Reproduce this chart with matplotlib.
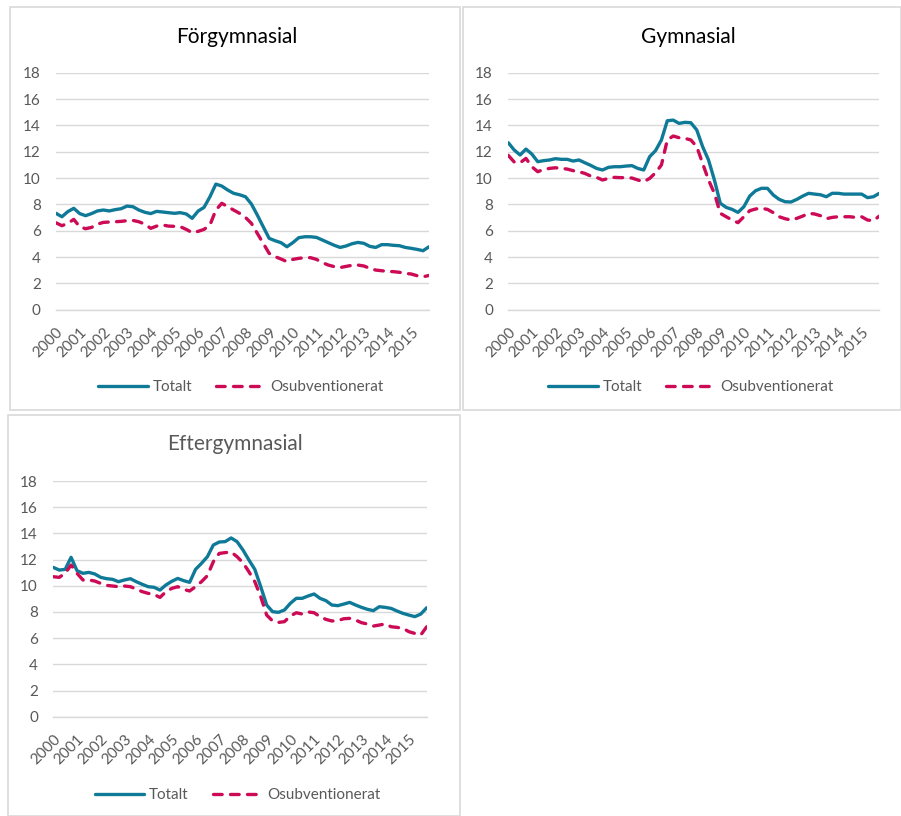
import matplotlib
matplotlib.use("Agg")
import matplotlib.pyplot as plt
from matplotlib.patches import Rectangle
from matplotlib.lines import Line2D

plt.rcParams['font.family'] = ['Lato', 'DejaVu Sans']

years = [str(y) for y in range(2000, 2016)]
quarters = list(range(64))

titles = ["Förgymnasial", "Gymnasial", "Eftergymnasial"]
series_names = ["Totalt", "Osubventionerat"]

forgym_totalt = [7.32, 7.06, 7.45, 7.70, 7.30, 7.14, 7.30, 7.50, 7.57, 7.50, 7.60, 7.67,
                 7.87, 7.82, 7.57, 7.40, 7.30, 7.47, 7.42, 7.37, 7.32, 7.37, 7.27, 6.94,
                 7.49, 7.77, 8.58, 9.54, 9.39, 9.09, 8.84, 8.73, 8.58, 8.03, 7.19, 6.30,
                 5.42, 5.24, 5.09, 4.78, 5.09, 5.47, 5.54, 5.54, 5.49, 5.29, 5.09, 4.89,
                 4.73, 4.84, 5.01, 5.11, 5.04, 4.81, 4.73, 4.94, 4.94, 4.89, 4.86, 4.73,
                 4.66, 4.58, 4.48, 4.78]
forgym_osub = [6.60, 6.38, 6.56, 6.86, 6.30, 6.15, 6.25, 6.50, 6.63, 6.66, 6.68, 6.71,
               6.76, 6.78, 6.68, 6.50, 6.18, 6.35, 6.43, 6.35, 6.33, 6.30, 6.10, 5.85,
               5.95, 6.10, 6.43, 7.57, 8.08, 7.82, 7.57, 7.32, 7.01, 6.56, 5.80, 5.04,
               4.28, 4.03, 3.85, 3.65, 3.82, 3.90, 3.95, 3.95, 3.82, 3.57, 3.39, 3.27,
               3.20, 3.29, 3.37, 3.39, 3.32, 3.14, 3.01, 2.96, 2.91, 2.89, 2.84, 2.76,
               2.71, 2.58, 2.50, 2.60]

gym_totalt = [12.68, 12.13, 11.75, 12.20, 11.82, 11.24, 11.32, 11.37, 11.47, 11.42, 11.42, 11.29,
              11.37, 11.16, 10.96, 10.73, 10.61, 10.81, 10.86, 10.86, 10.91, 10.94, 10.73, 10.61,
              11.62, 12.08, 12.89, 14.35, 14.40, 14.15, 14.23, 14.20, 13.65, 12.38, 11.37, 9.85,
              8.08, 7.77, 7.62, 7.39, 7.82, 8.63, 9.04, 9.22, 9.22, 8.71, 8.38, 8.20,
              8.18, 8.38, 8.63, 8.84, 8.78, 8.73, 8.58, 8.84, 8.84, 8.78, 8.78, 8.78,
              8.78, 8.51, 8.58, 8.84]
gym_osub = [11.72, 11.22, 11.16, 11.49, 10.86, 10.48, 10.66, 10.73, 10.78, 10.73, 10.68, 10.56,
            10.48, 10.35, 10.15, 10.05, 9.85, 9.97, 10.05, 10.03, 10.03, 10.00, 9.85, 9.72,
            9.97, 10.40, 10.99, 12.89, 13.19, 13.06, 13.01, 12.89, 12.38, 11.11, 9.85, 8.84,
            7.32, 7.06, 6.81, 6.61, 7.06, 7.52, 7.65, 7.70, 7.62, 7.37, 7.06, 6.91,
            6.81, 6.94, 7.11, 7.32, 7.27, 7.14, 6.91, 7.01, 7.06, 7.06, 7.06, 7.01,
            7.06, 6.81, 6.76, 7.11]

eftergym_totalt = [11.40, 11.20, 11.25, 12.17, 11.15, 10.95, 11.02, 10.90, 10.64, 10.54, 10.49, 10.31,
                   10.44, 10.54, 10.31, 10.11, 9.93, 9.88, 9.67, 10.06, 10.34, 10.56, 10.39, 10.26,
                   11.25, 11.71, 12.22, 13.11, 13.34, 13.37, 13.65, 13.37, 12.73, 11.97, 11.25, 9.93,
                   8.53, 8.02, 7.97, 8.15, 8.66, 9.04, 9.04, 9.22, 9.37, 9.04, 8.86, 8.53,
                   8.48, 8.60, 8.73, 8.53, 8.35, 8.20, 8.10, 8.40, 8.35, 8.27, 8.07, 7.89,
                   7.76, 7.64, 7.84, 8.32]
eftergym_osub = [10.69, 10.64, 10.95, 11.58, 10.95, 10.44, 10.44, 10.36, 10.18, 10.03, 9.98, 9.93,
                 9.98, 9.93, 9.75, 9.55, 9.42, 9.34, 9.11, 9.55, 9.80, 9.93, 9.72, 9.60,
                 9.93, 10.31, 10.77, 11.84, 12.47, 12.53, 12.58, 12.22, 11.76, 11.07, 10.31, 9.16,
                 7.76, 7.31, 7.20, 7.26, 7.69, 7.94, 7.84, 8.00, 7.94, 7.64, 7.43, 7.31,
                 7.33, 7.48, 7.51, 7.38, 7.18, 7.08, 6.92, 7.00, 7.08, 6.87, 6.82, 6.75,
                 6.49, 6.36, 6.24, 6.87]

panel_data = [(forgym_totalt, forgym_osub), (gym_totalt, gym_osub), (eftergym_totalt, eftergym_osub)]

W, H = 901, 816
fig = plt.figure(figsize=(W / 100, H / 100), dpi=100)
fig.patch.set_facecolor('white')

TEAL = '#0f7a98'
CRIMSON = '#cc0a55'
GRID = '#d9d9d9'
TXT = '#595959'
DASH = (2.6, 2.5)

def fx(px):
    return px / W

def fy(py):
    return 1 - py / H

# panel frames (pixel boxes: x0, y0, x1, y1)
frames = [(10, 7, 460, 410), (463, 7, 901, 410), (8, 415, 460, 816)]
for x0, y0, x1, y1 in frames:
    fig.add_artist(Rectangle((fx(x0), fy(y1)), fx(x1 - x0), (y1 - y0) / H,
                             transform=fig.transFigure, fill=False,
                             edgecolor=GRID, linewidth=1.2))

# axes pixel boxes: left, right, top(18), bottom(0)
axes_boxes = [(56, 429, 72.7, 309.7), (508.3, 879.3, 72.7, 309.7), (53.3, 426.7, 481.0, 716.7)]
title_pos = [(236.7, 37), (688, 37), (235, 444)]
title_colors = ['black', 'black', TXT]
legend_pos = [(241, 387), (691, 387), (237.5, 795)]

for i, ((l, r, t, b), (tot, osub)) in enumerate(zip(axes_boxes, panel_data)):
    ax = fig.add_axes([fx(l), fy(b), (r - l) / W, (b - t) / H])
    ax.set_facecolor('none')
    ax.plot(quarters, tot, color=TEAL, lw=2.4, solid_joinstyle='round',
            solid_capstyle='round', label=series_names[0], zorder=3)
    ax.plot(quarters, osub, color=CRIMSON, lw=2.4, dashes=DASH,
            dash_joinstyle='round', dash_capstyle='round',
            label=series_names[1], zorder=3)
    ax.set_xlim(0, 63)
    ax.set_ylim(0, 18)
    ax.set_yticks(range(0, 19, 2))
    ax.set_xticks(range(0, 64, 4))
    ax.set_xticklabels(years, rotation=45, ha='right', va='top', rotation_mode='anchor')
    ax.tick_params(axis='y', length=0, pad=11, labelsize=11, labelcolor=TXT)
    ax.tick_params(axis='x', length=0, pad=11, labelsize=11, labelcolor=TXT)
    ax.grid(axis='y', color=GRID, lw=1.0)
    ax.set_axisbelow(True)
    for s in ['top', 'right', 'left']:
        ax.spines[s].set_visible(False)
    ax.spines['bottom'].set_color(GRID)
    ax.spines['bottom'].set_linewidth(1.0)

    tx, ty = title_pos[i]
    fig.text(fx(tx), fy(ty), titles[i], ha='center', va='center', fontsize=15,
             color=title_colors[i])

    handles = [Line2D([], [], color=TEAL, lw=2.4, solid_capstyle='round'),
               Line2D([], [], color=CRIMSON, lw=2.4, dashes=DASH, dash_capstyle='round')]
    lx, ly = legend_pos[i]
    fig.legend(handles, series_names, loc='center', bbox_to_anchor=(fx(lx), fy(ly)),
               ncol=2, frameon=False, fontsize=11, labelcolor=TXT,
               handlelength=3.25, handletextpad=0.3, columnspacing=1.6,
               borderpad=0, borderaxespad=0)

fig.savefig('out.png', dpi=100, facecolor='white')
